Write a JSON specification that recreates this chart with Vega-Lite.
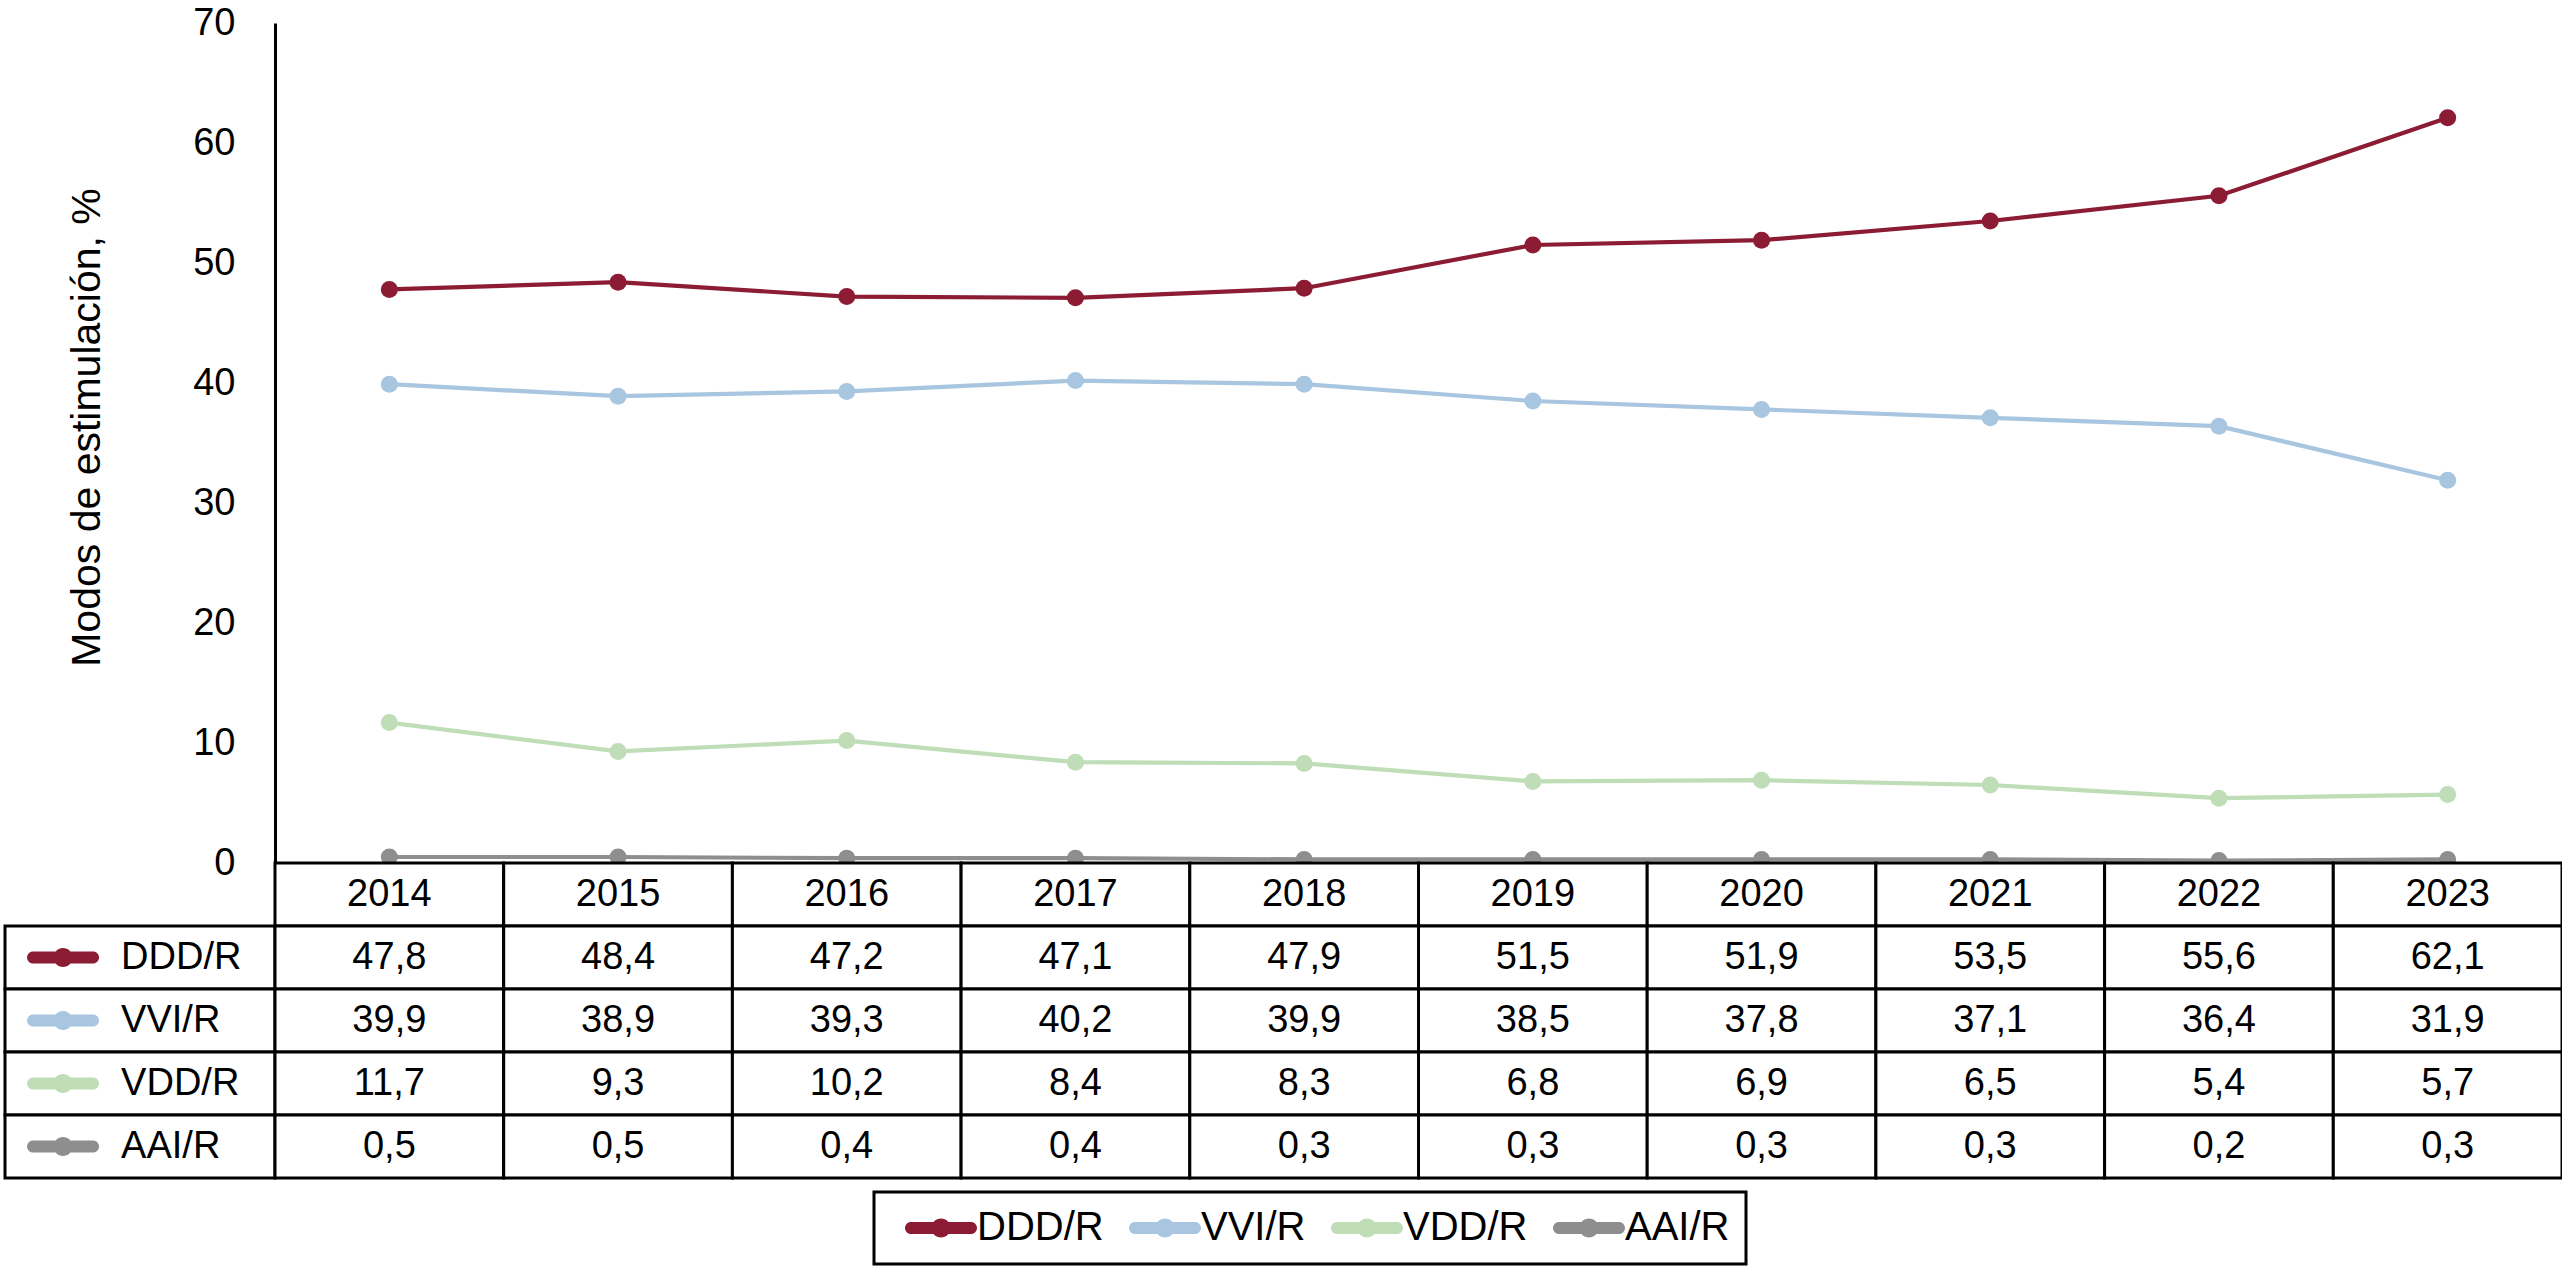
{
  "$schema": "https://vega.github.io/schema/vega-lite/v6.json",
  "background": "white",
  "padding": {"left": 3, "top": 4, "right": 2, "bottom": 2},
  "autosize": {"type": "pad"},
  "columns": 2,
  "spacing": 0,
  "bounds": "flush",
  "resolve": {"scale": {"x": "independent", "y": "independent", "color": "shared"}, "legend": {"color": "shared"}},
  "datasets": {
    "modos": [
      {"serie": "DDD/R", "year": 2014, "value": 47.8},
      {"serie": "DDD/R", "year": 2015, "value": 48.4},
      {"serie": "DDD/R", "year": 2016, "value": 47.2},
      {"serie": "DDD/R", "year": 2017, "value": 47.1},
      {"serie": "DDD/R", "year": 2018, "value": 47.9},
      {"serie": "DDD/R", "year": 2019, "value": 51.5},
      {"serie": "DDD/R", "year": 2020, "value": 51.9},
      {"serie": "DDD/R", "year": 2021, "value": 53.5},
      {"serie": "DDD/R", "year": 2022, "value": 55.6},
      {"serie": "DDD/R", "year": 2023, "value": 62.1},
      {"serie": "VVI/R", "year": 2014, "value": 39.9},
      {"serie": "VVI/R", "year": 2015, "value": 38.9},
      {"serie": "VVI/R", "year": 2016, "value": 39.3},
      {"serie": "VVI/R", "year": 2017, "value": 40.2},
      {"serie": "VVI/R", "year": 2018, "value": 39.9},
      {"serie": "VVI/R", "year": 2019, "value": 38.5},
      {"serie": "VVI/R", "year": 2020, "value": 37.8},
      {"serie": "VVI/R", "year": 2021, "value": 37.1},
      {"serie": "VVI/R", "year": 2022, "value": 36.4},
      {"serie": "VVI/R", "year": 2023, "value": 31.9},
      {"serie": "VDD/R", "year": 2014, "value": 11.7},
      {"serie": "VDD/R", "year": 2015, "value": 9.3},
      {"serie": "VDD/R", "year": 2016, "value": 10.2},
      {"serie": "VDD/R", "year": 2017, "value": 8.4},
      {"serie": "VDD/R", "year": 2018, "value": 8.3},
      {"serie": "VDD/R", "year": 2019, "value": 6.8},
      {"serie": "VDD/R", "year": 2020, "value": 6.9},
      {"serie": "VDD/R", "year": 2021, "value": 6.5},
      {"serie": "VDD/R", "year": 2022, "value": 5.4},
      {"serie": "VDD/R", "year": 2023, "value": 5.7},
      {"serie": "AAI/R", "year": 2014, "value": 0.5},
      {"serie": "AAI/R", "year": 2015, "value": 0.5},
      {"serie": "AAI/R", "year": 2016, "value": 0.4},
      {"serie": "AAI/R", "year": 2017, "value": 0.4},
      {"serie": "AAI/R", "year": 2018, "value": 0.3},
      {"serie": "AAI/R", "year": 2019, "value": 0.3},
      {"serie": "AAI/R", "year": 2020, "value": 0.3},
      {"serie": "AAI/R", "year": 2021, "value": 0.3},
      {"serie": "AAI/R", "year": 2022, "value": 0.2},
      {"serie": "AAI/R", "year": 2023, "value": 0.3}
    ]
  },
  "concat": [
    {
      "width": 270,
      "height": 840,
      "data": {"values": []},
      "mark": "point",
      "encoding": {}
    },
    {
      "width": 2287,
      "height": 840,
      "data": {"name": "modos"},
      "layer": [
        {
          "mark": {"type": "line", "strokeWidth": 4.2},
          "encoding": {
            "x": {"field": "year", "type": "ordinal", "scale": {"type": "band", "paddingInner": 0, "paddingOuter": 0}, "axis": null},
            "y": {"field": "value", "type": "quantitative", "scale": {"domain": [0, 70], "nice": false},
              "axis": {"title": "Modos de estimulación, %", "values": [0, 10, 20, 30, 40, 50, 60, 70], "format": "d", "grid": false, "ticks": false, "tickSize": 0, "domainColor": "black", "domainWidth": 3, "labelFontSize": 38, "labelColor": "black", "labelPadding": 40, "titleFontSize": 41, "titleFontWeight": "normal", "titleColor": "black", "titlePadding": 84, "titleY": 404}},
            "color": {"field": "serie", "type": "nominal", "scale": {"domain": ["DDD/R", "VVI/R", "VDD/R", "AAI/R"], "range": ["#8B1C34", "#A8C6E0", "#BFDDB6", "#8E8E8E"]}}
          }
        },
        {
          "mark": {"type": "point", "filled": true, "size": 290, "opacity": 1},
          "encoding": {
            "x": {"field": "year", "type": "ordinal", "scale": {"type": "band", "paddingInner": 0, "paddingOuter": 0}, "axis": null},
            "y": {"field": "value", "type": "quantitative"},
            "color": {"field": "serie", "type": "nominal", "scale": {"domain": ["DDD/R", "VVI/R", "VDD/R", "AAI/R"], "range": ["#8B1C34", "#A8C6E0", "#BFDDB6", "#8E8E8E"]},
              "legend": {
                "orient": "none", "legendX": 869, "legendY": 1169,
                "direction": "horizontal", "columns": 4, "title": null,
                "symbolType": "M-1.5,-0.3 L1.5,-0.3 A0.3,0.3 0 0 1 1.5,0.3 L-1.5,0.3 A0.3,0.3 0 0 1 -1.5,-0.3 Z M0.475,0 A0.475,0.475 0 1 1 -0.475,0 A0.475,0.475 0 1 1 0.475,0 Z",
                "symbolSize": 1600, "symbolStrokeWidth": 0, "symbolOpacity": 1,
                "symbolOffset": 31, "labelOffset": 16, "columnPadding": 10,
                "labelFontSize": 40, "labelColor": "black", "labelFont": "Liberation Sans",
                "padding": 16, "strokeColor": "black",
                "encode": {
                  "legend": {"update": {"strokeWidth": {"value": 3}}},
                  "symbols": {"update": {"fill": {"scale": "color", "field": "value"}, "strokeWidth": {"value": 0}}}
                }
              }
            }
          }
        }
      ]
    },
    {
      "width": 270,
      "height": 315,
      "data": {"name": "modos"},
      "transform": [{"filter": "datum.year == 2014"}],
      "layer": [
        {
          "mark": {"type": "rect", "fill": "white", "stroke": "black", "strokeWidth": 3},
          "encoding": {
            "x": {"datum": 0, "type": "quantitative", "scale": {"domain": [0, 1], "nice": false, "zero": false}, "axis": null},
            "x2": {"datum": 1},
            "y": {"field": "serie", "type": "nominal", "scale": {"type": "band", "domain": ["Año", "DDD/R", "VVI/R", "VDD/R", "AAI/R"], "paddingInner": 0, "paddingOuter": 0}, "axis": null}
          }
        },
        {
          "mark": {"type": "point", "shape": "M-1.5,-0.3 L1.5,-0.3 A0.3,0.3 0 0 1 1.5,0.3 L-1.5,0.3 A0.3,0.3 0 0 1 -1.5,-0.3 Z M0.475,0 A0.475,0.475 0 1 1 -0.475,0 A0.475,0.475 0 1 1 0.475,0 Z", "filled": true, "size": 1600, "opacity": 1, "strokeWidth": 0},
          "encoding": {
            "x": {"datum": 0.215, "type": "quantitative"},
            "y": {"field": "serie", "type": "nominal"},
            "color": {"field": "serie", "type": "nominal", "scale": {"domain": ["DDD/R", "VVI/R", "VDD/R", "AAI/R"], "range": ["#8B1C34", "#A8C6E0", "#BFDDB6", "#8E8E8E"]}}
          }
        },
        {
          "mark": {"type": "text", "align": "left", "baseline": "middle", "fontSize": 38, "color": "black"},
          "encoding": {
            "x": {"datum": 0.43, "type": "quantitative"},
            "y": {"field": "serie", "type": "nominal"},
            "text": {"field": "serie", "type": "nominal"}
          }
        }
      ]
    },
    {
      "width": 2287,
      "height": 315,
      "data": {"name": "modos"},
      "layer": [
        {
          "transform": [{"filter": "datum.serie == 'DDD/R'"}],
          "mark": {"type": "rect", "fill": "white", "stroke": "black", "strokeWidth": 3},
          "encoding": {
            "x": {"field": "year", "type": "ordinal", "scale": {"type": "band", "paddingInner": 0, "paddingOuter": 0}, "axis": null},
            "y": {"datum": "Año", "type": "nominal", "scale": {"type": "band", "domain": ["Año", "DDD/R", "VVI/R", "VDD/R", "AAI/R"], "paddingInner": 0, "paddingOuter": 0}, "axis": null}
          }
        },
        {
          "mark": {"type": "rect", "fill": "white", "stroke": "black", "strokeWidth": 3},
          "encoding": {
            "x": {"field": "year", "type": "ordinal"},
            "y": {"field": "serie", "type": "nominal"}
          }
        },
        {
          "transform": [{"filter": "datum.serie == 'DDD/R'"}],
          "mark": {"type": "text", "baseline": "middle", "fontSize": 38, "color": "black"},
          "encoding": {
            "x": {"field": "year", "type": "ordinal"},
            "y": {"datum": "Año", "type": "nominal"},
            "text": {"field": "year", "type": "nominal"}
          }
        },
        {
          "mark": {"type": "text", "baseline": "middle", "fontSize": 38, "color": "black"},
          "encoding": {
            "x": {"field": "year", "type": "ordinal"},
            "y": {"field": "serie", "type": "nominal"},
            "text": {"field": "value", "type": "quantitative", "format": ".1f"}
          }
        }
      ]
    }
  ],
  "config": {
    "font": "Liberation Sans",
    "view": {"stroke": null},
    "locale": {"number": {"decimal": ",", "thousands": ".", "grouping": [3], "currency": ["", " €"]}}
  }
}
